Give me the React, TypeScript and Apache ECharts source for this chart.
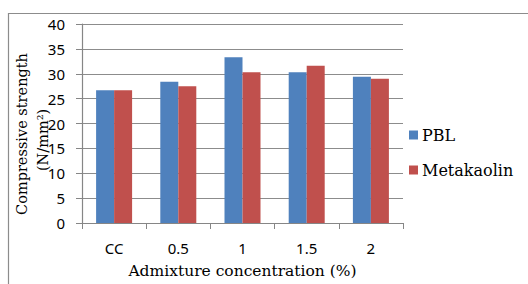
import React, { useEffect, useRef } from "react";
import * as echarts from "echarts";

const categories = ["CC", "0.5", "1", "1.5", "2"];
const pblValues = [26.7, 28.4, 33.3, 30.3, 29.4];
const metakaolinValues = [26.7, 27.5, 30.3, 31.6, 29.0];
const seriesNames = ["PBL", "Metakaolin"];
const yTitleLines = ["Compressive strength", "(N/mm\u00b2)"];
const xTitle = "Admixture concentration (%)";

export default function App() {
  const ref = useRef<HTMLDivElement>(null);
  useEffect(() => {
    if (!ref.current) return;
    const chart = echarts.init(ref.current, null, { renderer: "svg" });
    const serif = "DejaVu Serif";
    const sans = "Noto Sans";
    chart.setOption({
      animation: false,
      backgroundColor: "#ffffff",
      grid: { left: 82, right: 125, top: 24, bottom: 55 },
      graphic: [
        {
          type: "polyline",
          shape: { points: [[8.5, 284], [8.5, 13.5], [528, 13.5]] },
          style: { stroke: "#8c8c8c", lineWidth: 1.2, fill: "none" },
          silent: true,
        },
        {
          type: "text",
          x: 22,
          y: 134,
          rotation: Math.PI / 2,
          style: {
            text: yTitleLines[0],
            font: `14.5px "${serif}"`,
            fill: "#000",
            align: "center",
            verticalAlign: "middle",
          },
        },
        {
          type: "text",
          x: 43,
          y: 140,
          rotation: Math.PI / 2,
          style: {
            text: yTitleLines[1],
            font: `14.5px "${serif}"`,
            fill: "#000",
            align: "center",
            verticalAlign: "middle",
          },
        },
      ],
      legend: {
        orient: "vertical",
        left: 409,
        top: 126,
        padding: 0,
        itemWidth: 9,
        itemHeight: 9,
        itemGap: 17,
        icon: "rect",
        textStyle: { fontFamily: serif, fontSize: 16, color: "#000", lineHeight: 18, padding: [0, 0, 0, -1] },
        data: seriesNames,
      },
      xAxis: {
        type: "category",
        data: categories,
        name: xTitle,
        nameLocation: "middle",
        nameGap: 40,
        nameTextStyle: { fontFamily: serif, fontSize: 15.5, color: "#000" },
        axisLine: { lineStyle: { color: "#868686", width: 1.2 } },
        axisTick: { show: true, length: 6, lineStyle: { color: "#868686" } },
        axisLabel: { fontFamily: sans, fontSize: 15, color: "#000", margin: 17 },
      },
      yAxis: {
        type: "value",
        min: 0,
        max: 40,
        interval: 5,
        axisLine: { show: true, lineStyle: { color: "#868686", width: 1.2 } },
        axisTick: { show: true, length: 6, lineStyle: { color: "#868686" } },
        axisLabel: { fontFamily: sans, fontSize: 15, color: "#000", margin: 17 },
        splitLine: { lineStyle: { color: "#8c8c8c", width: 1.2 } },
      },
      series: [
        {
          name: seriesNames[0],
          type: "bar",
          data: pblValues,
          barWidth: 18,
          barGap: "0%",
          itemStyle: { color: "#4F81BD" },
        },
        {
          name: seriesNames[1],
          type: "bar",
          data: metakaolinValues,
          barWidth: 18,
          barGap: "0%",
          itemStyle: { color: "#C0504D" },
        },
      ],
    });
    return () => chart.dispose();
  }, []);
  return <div ref={ref} style={{ width: 528, height: 284, position: "absolute", left: 0, top: 0 }} />;
}
